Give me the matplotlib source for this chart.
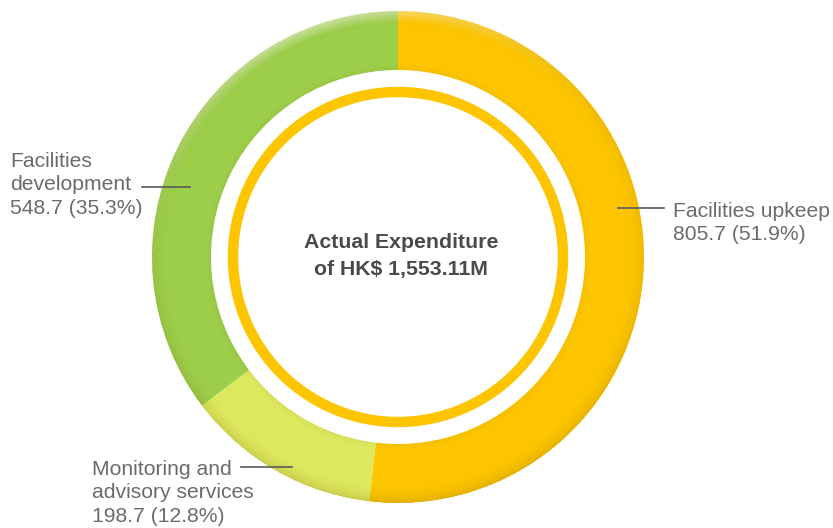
import numpy as np
import matplotlib.pyplot as plt
from matplotlib.patches import Circle

# Expenditure breakdown (HK$ million), clockwise from the top
categories = ['Facilities upkeep', 'Monitoring and\nadvisory services', 'Facilities\ndevelopment']
values = [805.7, 198.7, 548.7]
shares = [51.9, 12.8, 35.3]
colors = ['#FDC500', '#DDE85E', '#9CCE4A']

total_text = 'Actual Expenditure\nof HK$ 1,553.11M'

plt.rcParams['font.family'] = ['Liberation Sans', 'DejaVu Sans']

W, H = 833, 528
fig = plt.figure(figsize=(W / 100, H / 100), dpi=100)
ax = fig.add_axes([0, 0, 1, 1])

# Pixel-like coordinates, y measured from the bottom
cx, cy = 398, 271
r_out, ring_w = 246, 59
ax.pie(values, colors=colors, startangle=90, counterclock=False,
       center=(cx, cy), radius=r_out,
       wedgeprops=dict(width=ring_w, linewidth=0))

# soft shading to mimic the glossy ring
yy, xx = np.mgrid[0:H, 0:W]
px = xx + 0.5
py = H - (yy + 0.5)
rr = np.hypot(px - cx, py - cy)
th = np.arctan2(py - cy, px - cx)
t = (rr - (r_out - ring_w)) / ring_w
inside = (t >= 0) & (t <= 1)

shade = np.zeros((H, W, 4))
dark = np.clip((t - 0.7) / 0.3, 0, 1) ** 2 * (0.5 + 0.5 * np.clip(-np.sin(th), 0, 1))
dark = dark * 0.2 + np.clip((0.1 - t) / 0.1, 0, 1) * 0.06
dark[~inside] = 0
shade[..., 0:3] = [0.45, 0.35, 0.0]
shade[..., 3] = dark
ax.imshow(shade, extent=[0, W, 0, H], origin='upper', interpolation='bilinear', zorder=2)

glow = np.ones((H, W, 4))
light = np.clip((t - 0.8) / 0.2, 0, 1) * np.clip(np.sin(th - 0.3), 0, 1) ** 3 * 0.5
light[~inside] = 0
glow[..., 3] = light
ax.imshow(glow, extent=[0, W, 0, H], origin='upper', interpolation='bilinear', zorder=2)

# thin inner ring
ax.add_patch(Circle((cx, cy), 165, fill=False, edgecolor='#FDC400', linewidth=7.5, zorder=3))

ax.text(cx + 3, cy + 1, total_text, ha='center', va='center', fontsize=15.3,
        fontweight='bold', color='#4a4a4a', linespacing=1.5, zorder=4)

label_color = '#6b6b6b'
line_color = '#5a5a5a'


def label(i):
    return f'{categories[i]}\n{values[i]} ({shares[i]}%)'


# Facilities development
ax.text(10, H - 185, label(2), ha='left', va='center', fontsize=15.2,
        color=label_color, linespacing=1.3, zorder=4)
ax.plot([142, 190], [H - 187, H - 187], color=line_color, lw=1.2, zorder=4)

# Facilities upkeep
ax.text(673, H - 223, label(0), ha='left', va='center', fontsize=15.2,
        color=label_color, linespacing=1.3, zorder=4)
ax.plot([618, 664], [H - 208, H - 208], color=line_color, lw=1.2, zorder=4)

# Monitoring and advisory services
ax.text(92, H - 493, label(1), ha='left', va='center', fontsize=15.2,
        color=label_color, linespacing=1.3, zorder=4)
ax.plot([241, 292], [H - 467, H - 467], color=line_color, lw=1.2, zorder=4)

ax.set_xlim(0, W)
ax.set_ylim(0, H)
ax.set_aspect('auto')
ax.axis('off')

fig.savefig('out.png', dpi=100, facecolor='white')
